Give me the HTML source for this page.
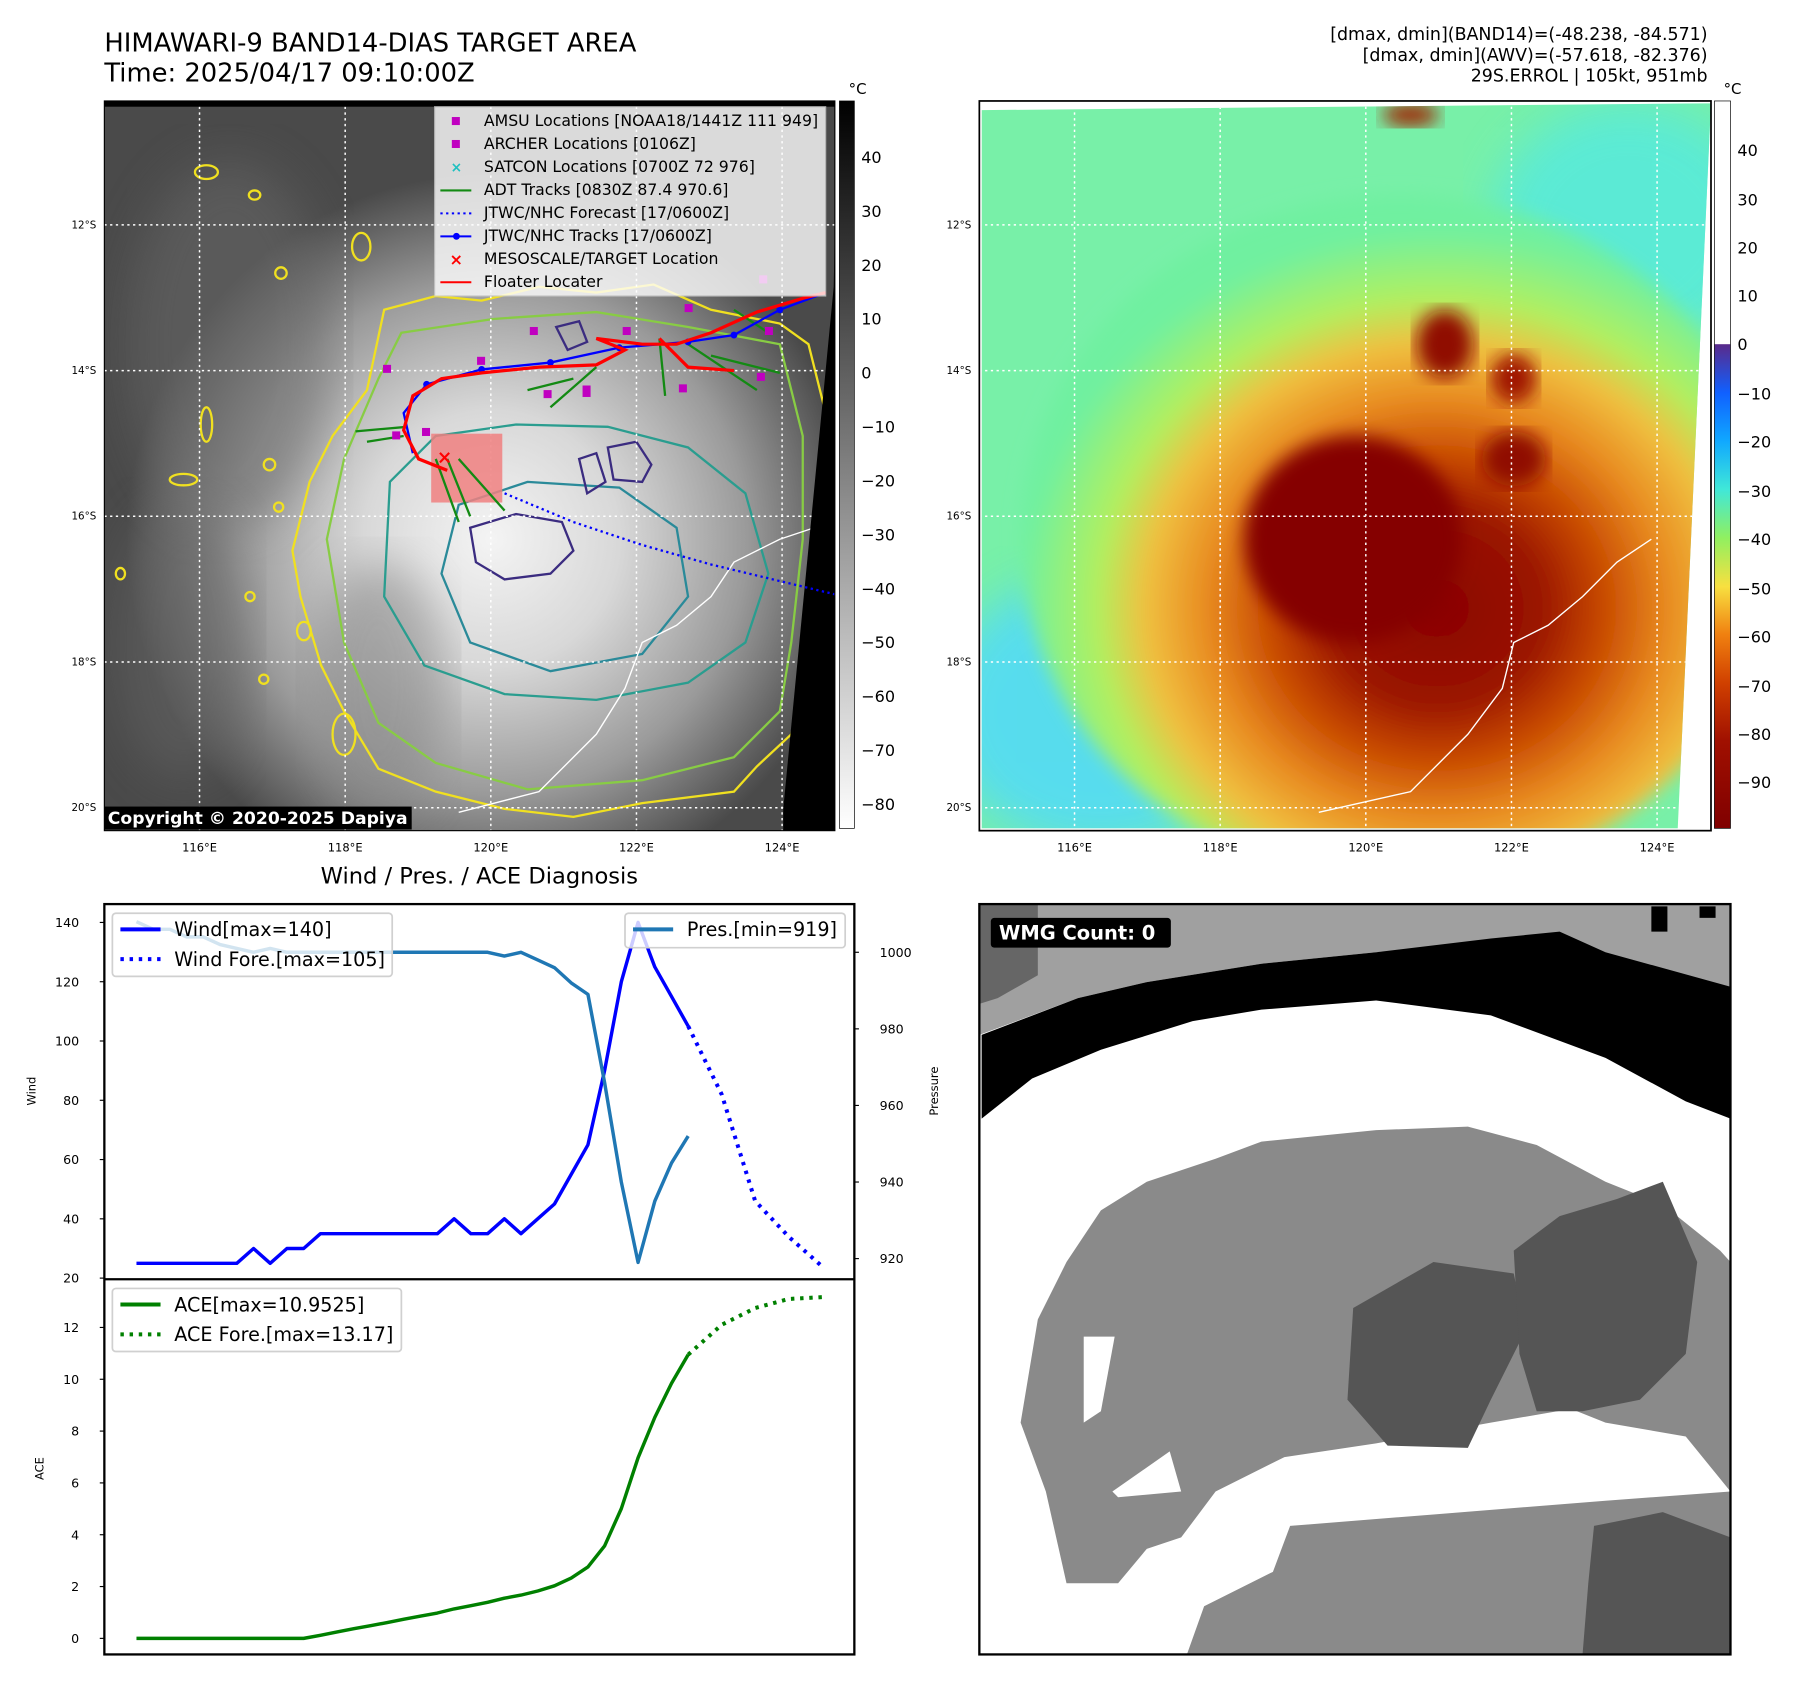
<!DOCTYPE html>
<html><head><meta charset="utf-8">
<style>
html,body{margin:0;padding:0;background:#fff;}
svg{display:block;font-family:"DejaVu Sans","Liberation Sans",sans-serif;}
</style></head>
<body>
<svg id="fig" width="1797" height="1690" viewBox="0 0 1567 1473" preserveAspectRatio="none" xmlns="http://www.w3.org/2000/svg">
<defs>
  <radialGradient id="irGlow" cx="0.53" cy="0.6" r="0.5">
    <stop offset="0" stop-color="#f4f4f4"/>
    <stop offset="0.35" stop-color="#d8d8d8"/>
    <stop offset="0.7" stop-color="#9a9a9a"/>
    <stop offset="1" stop-color="#4a4a4a"/>
  </radialGradient>
  <radialGradient id="awvGlow" cx="0.55" cy="0.6" r="0.55">
    <stop offset="0" stop-color="#8a0000"/>
    <stop offset="0.25" stop-color="#9a1500"/>
    <stop offset="0.4" stop-color="#c84a00"/>
    <stop offset="0.55" stop-color="#e88a20"/>
    <stop offset="0.7" stop-color="#f0c040"/>
    <stop offset="0.82" stop-color="#b0f060"/>
    <stop offset="1" stop-color="#70f0a0"/>
  </radialGradient>
  <linearGradient id="cbGray" x1="0" y1="0" x2="0" y2="1">
    <stop offset="0" stop-color="#000"/><stop offset="1" stop-color="#fff"/>
  </linearGradient>
  <linearGradient id="cbJet" x1="0" y1="0" x2="0" y2="1">
    <stop offset="0" stop-color="#5a2a8a"/>
    <stop offset="0.1" stop-color="#1060ff"/>
    <stop offset="0.2" stop-color="#10a8ff"/>
    <stop offset="0.3" stop-color="#40e8d8"/>
    <stop offset="0.4" stop-color="#90f060"/>
    <stop offset="0.5" stop-color="#f8e040"/>
    <stop offset="0.6" stop-color="#f08010"/>
    <stop offset="0.7" stop-color="#d04000"/>
    <stop offset="0.82" stop-color="#a01000"/>
    <stop offset="1" stop-color="#800000"/>
  </linearGradient>
  <filter id="blur8"><feGaussianBlur stdDeviation="8"/></filter>
  <filter id="blur20"><feGaussianBlur stdDeviation="20"/></filter>
  <clipPath id="clip1"><rect x="91" y="88" width="637" height="636"/></clipPath>
  <clipPath id="clip2"><polygon points="856,96 1492,90 1463,722 856,722"/></clipPath>
</defs>

<text x="91" y="45" font-size="22.5">HIMAWARI-9 BAND14-DIAS TARGET AREA</text>
<text x="91" y="71" font-size="22.5">Time: 2025/04/17 09:10:00Z</text>
<g font-size="15.2" text-anchor="end">
  <text x="1489" y="35">[dmax, dmin](BAND14)=(-48.238, -84.571)</text>
  <text x="1489" y="53">[dmax, dmin](AWV)=(-57.618, -82.376)</text>
  <text x="1489" y="71">29S.ERROL | 105kt, 951mb</text>
</g>

<g>
  <g clip-path="url(#clip1)">
    <rect x="91" y="88" width="637" height="636" fill="#3c3c3c"/>
    <rect x="91" y="88" width="637" height="636" fill="url(#irGlow)"/>
    <ellipse cx="200" cy="300" rx="90" ry="160" fill="#6a6a6a" opacity="0.5" filter="url(#blur20)"/>
    <ellipse cx="160" cy="560" rx="60" ry="120" fill="#666" opacity="0.5" filter="url(#blur20)"/>
    <ellipse cx="330" cy="600" rx="60" ry="110" fill="#8a8a8a" opacity="0.6" filter="url(#blur20)"/>
    <g fill="none" stroke-width="2">
      <path stroke="#f0e020" d="M335,270 L380,258 L420,262 L470,250 L520,255 L570,248 L620,270 L680,282 L705,300 L720,360 L715,420 L722,480 L705,540 L700,600 L690,640 L660,668 L640,690 L560,700 L500,712 L440,705 L380,690 L330,670 L300,620 L280,580 L262,520 L255,480 L270,420 L290,380 L320,340 Z"/>
      <path stroke="#88cc44" d="M350,290 L430,278 L520,272 L600,285 L680,300 L700,380 L700,470 L690,560 L680,620 L640,660 L560,680 L460,688 L380,665 L330,630 L300,560 L285,470 L300,400 L330,330 Z"/>
      <path stroke="#2a9d8f" d="M340,420 L380,380 L450,370 L530,372 L600,390 L650,430 L670,500 L650,560 L600,595 L520,610 L440,605 L370,580 L335,520 Z"/>
      <path stroke="#2a8a99" d="M400,440 L460,420 L540,425 L590,460 L600,520 L560,570 L480,585 L410,560 L385,500 Z"/>
      <path stroke="#3b2c80" d="M410,460 L450,448 L490,455 L500,480 L480,500 L440,505 L415,490 Z"/>
      <path stroke="#3b2c80" d="M530,390 L555,385 L568,405 L560,420 L535,418 Z"/>
      <path stroke="#3b2c80" d="M485,285 L505,280 L512,298 L495,305 Z"/>
      <path stroke="#3b2c80" d="M505,400 L520,395 L528,420 L512,430 Z"/>
    </g>
    <g fill="none" stroke="#f0e020" stroke-width="2">
      <ellipse cx="180" cy="150" rx="10" ry="6"/><ellipse cx="222" cy="170" rx="5" ry="4"/>
      <ellipse cx="315" cy="215" rx="8" ry="12"/><ellipse cx="245" cy="238" rx="5" ry="5"/>
      <ellipse cx="180" cy="370" rx="5" ry="15"/><ellipse cx="160" cy="418" rx="12" ry="5"/>
      <ellipse cx="235" cy="405" rx="5" ry="5"/><ellipse cx="243" cy="442" rx="4" ry="4"/>
      <ellipse cx="105" cy="500" rx="4" ry="5"/><ellipse cx="218" cy="520" rx="4" ry="4"/>
      <ellipse cx="300" cy="640" rx="10" ry="18"/><ellipse cx="265" cy="550" rx="6" ry="8"/>
      <ellipse cx="230" cy="592" rx="4" ry="4"/>
    </g>
    <path d="M400,708 L470,690 L520,640 L545,600 L560,560 L590,545 L620,520 L640,490 L680,470 L710,460 L720,430" fill="none" stroke="#fff" stroke-width="1.2"/>
    <g stroke="#fff" stroke-width="1.3" stroke-dasharray="2 3">
      <line x1="174" y1="88" x2="174" y2="724"/><line x1="301" y1="88" x2="301" y2="724"/>
      <line x1="428" y1="88" x2="428" y2="724"/><line x1="555" y1="88" x2="555" y2="724"/>
      <line x1="682" y1="88" x2="682" y2="724"/>
      <line x1="91" y1="196" x2="728" y2="196"/><line x1="91" y1="323" x2="728" y2="323"/>
      <line x1="91" y1="450" x2="728" y2="450"/><line x1="91" y1="577" x2="728" y2="577"/>
      <line x1="91" y1="704" x2="728" y2="704"/>
    </g>
    <polygon points="727,250 730,88 730,724 683,724 683,705" fill="#000"/>
    <rect x="91" y="88" width="637" height="5" fill="#000"/>
    <rect x="376" y="378" width="62" height="60" fill="#f08080" opacity="0.85"/>
    <path d="M440,430 L500,455 L560,475 L620,492 L728,518" fill="none" stroke="#0000ff" stroke-width="2" stroke-dasharray="2 3"/>
    <g stroke="#138a13" stroke-width="2" fill="none">
      <path d="M310,376 L355,372 M320,385 L352,380 M380,400 L400,455 M390,400 L410,450 M400,400 L440,445 M460,340 L500,330 M480,355 L520,320 M575,295 L580,345 M600,300 L660,340 M620,310 L680,325 M640,270 L670,290"/>
    </g>
    <path d="M360,395 L352,360 L372,335 L420,322 L480,316 L540,303 L600,298 L640,292 L680,270 L720,255" fill="none" stroke="#0000ff" stroke-width="2"/>
    <g fill="#0000ff"><circle cx="372" cy="335" r="3"/><circle cx="420" cy="322" r="3"/><circle cx="480" cy="316" r="3"/><circle cx="540" cy="303" r="3"/><circle cx="600" cy="298" r="3"/><circle cx="640" cy="292" r="3"/><circle cx="680" cy="270" r="3"/></g>
    <path d="M390,410 L365,400 L352,375 L360,345 L385,330 L420,325 L470,320 L520,318 L545,305 L520,295 L560,300 L590,300 L620,290 L660,272 L700,260 L720,255 M575,295 L600,320 L640,323" fill="none" stroke="#ff0000" stroke-width="2.8"/>
    <g fill="#c000c0">
      <rect x="334" y="318" width="7" height="7"/><rect x="416" y="311" width="7" height="7"/><rect x="462" y="285" width="7" height="7"/>
      <rect x="474" y="340" width="7" height="7"/><rect x="508" y="336" width="7" height="10"/><rect x="543" y="285" width="7" height="7"/>
      <rect x="592" y="335" width="7" height="7"/><rect x="597" y="265" width="7" height="7"/><rect x="660" y="325" width="7" height="7"/>
      <rect x="667" y="285" width="7" height="7"/><rect x="342" y="376" width="7" height="7"/><rect x="368" y="373" width="7" height="7"/>
      <rect x="662" y="240" width="7" height="7"/>
    </g>
    <text x="381" y="404" fill="#ff0000" font-size="16" font-weight="bold">×</text>
  </g>
  <rect x="91" y="88" width="637" height="636" fill="none" stroke="#000" stroke-width="1"/>
  <g font-size="13.7">
    <rect x="379" y="93" width="341" height="165" fill="#fff" opacity="0.8" stroke="#ccc"/>
    <rect x="394" y="102" width="7" height="7" fill="#c000c0"/><text x="422" y="110">AMSU Locations [NOAA18/1441Z 111 949]</text>
    <rect x="394" y="122" width="7" height="7" fill="#c000c0"/><text x="422" y="130">ARCHER Locations [0106Z]</text>
    <text x="393" y="150" fill="#20c0c0" font-size="12" font-weight="bold">×</text><text x="422" y="150">SATCON Locations [0700Z 72 976]</text>
    <line x1="384" y1="166" x2="411" y2="166" stroke="#138a13" stroke-width="1.8"/><text x="422" y="170">ADT Tracks [0830Z 87.4 970.6]</text>
    <line x1="384" y1="186" x2="411" y2="186" stroke="#0000ff" stroke-width="1.8" stroke-dasharray="2 3"/><text x="422" y="190">JTWC/NHC Forecast [17/0600Z]</text>
    <line x1="384" y1="206" x2="411" y2="206" stroke="#0000ff" stroke-width="1.8"/><circle cx="398" cy="206" r="3" fill="#0000ff"/><text x="422" y="210">JTWC/NHC Tracks [17/0600Z]</text>
    <text x="392" y="231" fill="#ff0000" font-size="14" font-weight="bold">×</text><text x="422" y="230">MESOSCALE/TARGET Location</text>
    <line x1="384" y1="246" x2="411" y2="246" stroke="#ff0000" stroke-width="1.8"/><text x="422" y="250">Floater Locater</text>
  </g>
  <rect x="91" y="703" width="268" height="20" fill="#000"/>
  <text x="94" y="718" fill="#fff" font-size="15" font-weight="bold">Copyright © 2020-2025 Dapiya</text>
</g>
<g font-size="9">
  <g text-anchor="end"><text x="84" y="199">12°S</text><text x="84" y="326">14°S</text><text x="84" y="453">16°S</text><text x="84" y="580">18°S</text><text x="84" y="707">20°S</text></g>
  <g text-anchor="middle" font-size="10"><text x="174" y="742">116°E</text><text x="301" y="742">118°E</text><text x="428" y="742">120°E</text><text x="555" y="742">122°E</text><text x="682" y="742">124°E</text></g>
</g>
<g font-size="14">
  <rect x="732" y="88" width="13" height="634" fill="url(#cbGray)" stroke="#000" stroke-width="0.6"/>
  <text x="740" y="82" font-size="13">°C</text>
  <g>
    <text x="751" y="142">40</text><text x="751" y="189">30</text><text x="751" y="236">20</text><text x="751" y="283">10</text><text x="751" y="330">0</text>
    <text x="751" y="377">−10</text><text x="751" y="424">−20</text><text x="751" y="471">−30</text><text x="751" y="518">−40</text><text x="751" y="565">−50</text>
    <text x="751" y="612">−60</text><text x="751" y="659">−70</text><text x="751" y="706">−80</text>
  </g>
</g>

<g>
  <g clip-path="url(#clip2)">
    <rect x="854" y="88" width="640" height="640" fill="#78f0a8"/>
    <ellipse cx="960" cy="620" rx="140" ry="120" fill="#50d8ff" opacity="0.8" filter="url(#blur20)"/>
    <ellipse cx="1420" cy="200" rx="120" ry="110" fill="#50e8e8" opacity="0.7" filter="url(#blur20)"/>
    <ellipse cx="1220" cy="470" rx="330" ry="300" fill="url(#awvGlow)" filter="url(#blur8)"/>
    <ellipse cx="1180" cy="470" rx="95" ry="90" fill="#850000" filter="url(#blur8)"/>
    <ellipse cx="1260" cy="300" rx="25" ry="30" fill="#900800" filter="url(#blur8)"/>
    <ellipse cx="1320" cy="400" rx="28" ry="24" fill="#900800" filter="url(#blur8)"/>
    <ellipse cx="1320" cy="330" rx="20" ry="22" fill="#a01800" filter="url(#blur8)"/>
    <ellipse cx="1230" cy="100" rx="25" ry="10" fill="#a02000" filter="url(#blur8)"/>
    <path d="M1150,708 L1230,690 L1280,640 L1310,600 L1320,560 L1350,545 L1380,520 L1410,490 L1440,470" fill="none" stroke="#fff" stroke-width="1.2"/>
    <g stroke="#fff" stroke-width="1.3" stroke-dasharray="2 3">
      <line x1="937" y1="88" x2="937" y2="724"/><line x1="1064" y1="88" x2="1064" y2="724"/>
      <line x1="1191" y1="88" x2="1191" y2="724"/><line x1="1318" y1="88" x2="1318" y2="724"/>
      <line x1="1445" y1="88" x2="1445" y2="724"/>
      <line x1="854" y1="196" x2="1494" y2="196"/><line x1="854" y1="323" x2="1494" y2="323"/>
      <line x1="854" y1="450" x2="1494" y2="450"/><line x1="854" y1="577" x2="1494" y2="577"/>
      <line x1="854" y1="704" x2="1494" y2="704"/>
    </g>
  </g>
  <rect x="854" y="88" width="638" height="636" fill="none" stroke="#000" stroke-width="1.5"/>
</g>
<g font-size="9">
  <g text-anchor="end"><text x="847" y="199">12°S</text><text x="847" y="326">14°S</text><text x="847" y="453">16°S</text><text x="847" y="580">18°S</text><text x="847" y="707">20°S</text></g>
  <g text-anchor="middle" font-size="10"><text x="937" y="742">116°E</text><text x="1064" y="742">118°E</text><text x="1191" y="742">120°E</text><text x="1318" y="742">122°E</text><text x="1445" y="742">124°E</text></g>
</g>
<g font-size="14">
  <rect x="1495" y="88" width="14" height="212" fill="#fff"/>
  <rect x="1495" y="300" width="14" height="422" fill="url(#cbJet)"/>
  <rect x="1495" y="88" width="14" height="634" fill="none" stroke="#000" stroke-width="0.6"/>
  <text x="1503" y="82" font-size="13">°C</text>
  <text x="1515" y="136">40</text><text x="1515" y="179">30</text><text x="1515" y="221">20</text><text x="1515" y="263">10</text><text x="1515" y="305">0</text>
  <text x="1515" y="348">−10</text><text x="1515" y="390">−20</text><text x="1515" y="433">−30</text><text x="1515" y="475">−40</text><text x="1515" y="518">−50</text>
  <text x="1515" y="560">−60</text><text x="1515" y="603">−70</text><text x="1515" y="645">−80</text><text x="1515" y="687">−90</text>
</g>

<text x="418" y="770" font-size="19.7" text-anchor="middle">Wind / Pres. / ACE Diagnosis</text>
<g id="chart"></g>

<g>
  <rect x="854" y="788" width="655" height="654" fill="#fff"/>
  <polygon points="854,788 1509,788 1509,862 1400,832 1300,822 1200,830 1100,840 1000,856 940,870 854,902" fill="#a0a0a0"/>
  <polygon points="854,788 905,788 905,850 870,870 854,875" fill="#666"/>
  <rect x="1440" y="790" width="14" height="22" fill="#000"/><rect x="1482" y="790" width="14" height="10" fill="#000"/>
  <polygon points="856,902 940,870 1000,856 1100,840 1200,830 1300,818 1360,812 1400,830 1509,860 1509,975 1470,960 1400,922 1300,885 1200,872 1100,880 1040,890 960,915 900,940 856,975" fill="#000"/>
  <polygon points="890,1240 905,1150 930,1100 960,1055 1000,1030 1060,1010 1100,995 1200,985 1280,982 1340,998 1400,1030 1450,1050 1500,1090 1509,1100 1509,1300 1470,1252 1400,1240 1370,1228 1300,1240 1200,1258 1120,1270 1060,1300 1030,1340 1000,1350 975,1380 930,1380 912,1300" fill="#8a8a8a"/>
  <polygon points="945,1165 972,1165 960,1230 945,1240" fill="#fff"/>
  <polygon points="970,1300 1020,1265 1030,1300 975,1305" fill="#fff"/>
  <polygon points="1035,1442 1050,1400 1110,1370 1125,1330 1250,1320 1400,1308 1509,1300 1509,1442" fill="#8a8a8a"/>
  <polygon points="1180,1140 1250,1100 1320,1110 1330,1160 1300,1220 1280,1262 1210,1260 1175,1220" fill="#555"/>
  <polygon points="1320,1090 1360,1060 1410,1045 1450,1030 1480,1100 1470,1180 1430,1220 1380,1230 1340,1230 1325,1180" fill="#555"/>
  <polygon points="1390,1330 1450,1318 1509,1340 1509,1442 1380,1442 1385,1380" fill="#555"/>
  <rect x="854" y="788" width="655" height="654" fill="none" stroke="#000" stroke-width="2"/>
  <rect x="864" y="800" width="157" height="26" rx="3" fill="#000"/>
  <text x="871" y="819" fill="#fff" font-size="17" font-weight="bold">WMG Count: 0</text>
</g>

<script>
const STEPS = [0,1,2,3,4,5,6,7,8,9,10,11,12,13,14,15,16,17,18,19,20,21,22,23,24,25,26,27,28,29,30,31,32,33];
const WIND = [25,25,25,25,25,25,25,30,25,30,30,35,35,35,35,35,35,35,35,40,35,35,40,35,40,45,55,65,90,120,140,125,115,105];
const PRES = [1008,1006,1006,1004,1004,1002,1001,1000,1001,1000,1000,1000,1000,1000,1000,1000,1000,1000,1000,1000,1000,1000,999,1000,998,996,992,989,966,940,919,935,945,952];
const ACE = [0,0,0,0,0,0,0,0,0,0,0,0.12,0.25,0.37,0.49,0.61,0.74,0.86,0.98,1.14,1.26,1.39,1.55,1.67,1.83,2.03,2.33,2.76,3.57,5.01,6.97,8.53,9.85,10.95];
const FCST_STEPS = [33,35,37,39,41];
const WIND_FCST = [105,82,46,34,24];
const ACE_FCST = [10.95,12.1,12.75,13.1,13.17];
const WIND_TICKS = [20,40,60,80,100,120,140];
const PRES_TICKS = [920,940,960,980,1000];
const ACE_TICKS = [0,2,4,6,8,10,12];

const NS = 'http://www.w3.org/2000/svg';
const chart = document.getElementById('chart');
const L = 91, R = 745, T = 788, MID = 1115, B = 1442;
function xS(i){ return 119 + i * 14.58; }
function yW(v){ return 1114 - (v - 20) * 310 / 120; }
function yP(p){ return 1097 - (p - 920) * 267 / 80; }
function yA(a){ return 1428 - a * 271 / 12; }
function el(tag, attrs, parent){
  const e = document.createElementNS(NS, tag);
  for (const k in attrs) e.setAttribute(k, attrs[k]);
  (parent || chart).appendChild(e);
  return e;
}
function pts(xs, ys, fy){ return xs.map((s, i) => xS(s).toFixed(1) + ',' + fy(ys[i]).toFixed(1)).join(' '); }

const f1 = el('rect', {x:L, y:T, width:R-L, height:B-T, fill:'#fff', stroke:'#000', 'stroke-width':2});


const dv = el('line', {x1:L, y1:MID, x2:R, y2:MID, stroke:'#000', 'stroke-width':2});



WIND_TICKS.forEach(v => {
  const y = yW(v);
  el('line', {x1:L-4, y1:y, x2:L, y2:y, stroke:'#000', 'stroke-width':1});
  const t = el('text', {x:L-22, y:y+4, 'font-size':11, 'text-anchor':'end'});
  t.textContent = v;
  
  
});
PRES_TICKS.forEach(p => {
  const y = yP(p);
  el('line', {x1:R, y1:y, x2:R+4, y2:y, stroke:'#000', 'stroke-width':1});
  const t = el('text', {x:R+22, y:y+4, 'font-size':11});
  t.textContent = p;
  
  
});
ACE_TICKS.forEach(a => {
  const y = yA(a);
  el('line', {x1:L-4, y1:y, x2:L, y2:y, stroke:'#000', 'stroke-width':1});
  const t = el('text', {x:L-22, y:y+4, 'font-size':11, 'text-anchor':'end'});
  t.textContent = a;
  
  
});
const yl1 = el('text', {x:0, y:0, 'font-size':10, 'text-anchor':'middle', transform:'translate(31,951) rotate(-90)'});
yl1.textContent = 'Wind';


const yl2 = el('text', {x:0, y:0, 'font-size':10, 'text-anchor':'middle', transform:'translate(818,951) rotate(-90)'});
yl2.textContent = 'Pressure';


const yl3 = el('text', {x:0, y:0, 'font-size':10, 'text-anchor':'middle', transform:'translate(38,1280) rotate(-90)'});
yl3.textContent = 'ACE';



const wl = el('polyline', {points:pts(STEPS, WIND, yW), fill:'none', stroke:'#0000ff', 'stroke-width':3, 'stroke-linejoin':'round'});


const wf = el('polyline', {points:pts(FCST_STEPS, WIND_FCST, yW), fill:'none', stroke:'#0000ff', 'stroke-width':3.5, 'stroke-dasharray':'3 5'});


const pl = el('polyline', {points:pts(STEPS, PRES, yP), fill:'none', stroke:'#1f77b4', 'stroke-width':3, 'stroke-linejoin':'round'});


const al = el('polyline', {points:pts(STEPS, ACE, yA), fill:'none', stroke:'#008000', 'stroke-width':3, 'stroke-linejoin':'round'});


const af = el('polyline', {points:pts(FCST_STEPS, ACE_FCST, yA), fill:'none', stroke:'#008000', 'stroke-width':3.5, 'stroke-dasharray':'3 5'});



function legend(x, y, w, h, items, name){
  const g = el('g', {});
  
  
  el('rect', {x:x, y:y, width:w, height:h, rx:3, fill:'#fff', 'fill-opacity':0.8, stroke:'#d0d0d0', 'stroke-width':1.5}, g);
  items.forEach((it, k) => {
    const cy = y + 14 + k * 26;
    const ln = {x1:x+7, y1:cy, x2:x+42, y2:cy, stroke:it.c, 'stroke-width':3.5};
    if (it.d) ln['stroke-dasharray'] = '3 5';
    el('line', ln, g);
    const t = el('text', {x:x+54, y:cy+6, 'font-size':16.7}, g);
    t.textContent = it.t;
  });
}
legend(98, 796, 244, 55, [{c:'#0000ff', t:'Wind[max=140]'}, {c:'#0000ff', d:1, t:'Wind Fore.[max=105]'}], 'wind-legend');
legend(545, 796, 192, 30, [{c:'#1f77b4', t:'Pres.[min=919]'}], 'pressure-legend');
legend(98, 1123, 252, 55, [{c:'#008000', t:'ACE[max=10.9525]'}, {c:'#008000', d:1, t:'ACE Fore.[max=13.17]'}], 'ace-legend');
</script>
</body></html>
